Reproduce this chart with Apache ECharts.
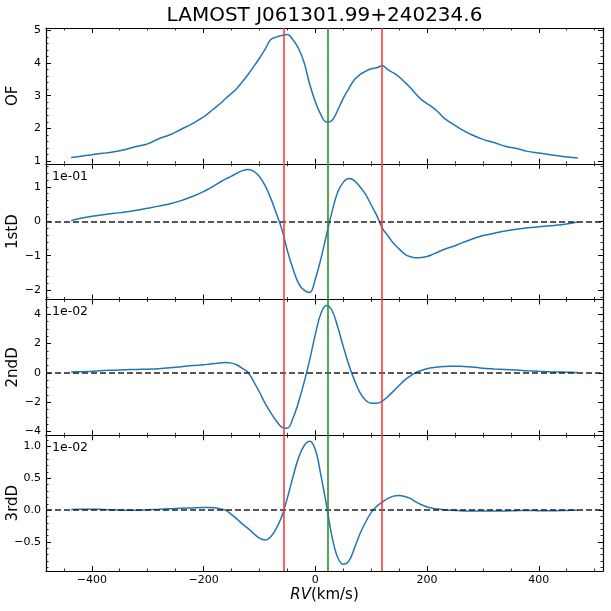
<!DOCTYPE html>
<html>
<head>
<meta charset="utf-8">
<script src="https://cdn.jsdelivr.net/npm/echarts@6/dist/echarts.min.js"></script>
<style>
  html, body { margin: 0; padding: 0; background: #fff; }
  #chart { width: 611px; height: 611px; }
</style>
</head>
<body>
<div id="chart"></div>
<script>
const starName = 'LAMOST J061301.99+240234.6';

const rv = [-437, -420, -400, -380, -360, -340, -320, -300, -280, -260, -240, -220,
  -200, -190, -180, -170, -160, -150, -140, -130, -120, -110, -100, -90, -80, -70, -60, -50,
  -40, -30, -20, -10, 0, 10, 20, 30, 40, 50, 60, 70, 80, 90, 100, 110, 120, 130, 140, 150,
  160, 170, 180, 190, 200, 210, 220, 230, 240, 250, 260, 280, 300, 320, 340, 360, 380, 400,
  420, 440, 460, 470];

const of = [1.10, 1.14, 1.19, 1.23, 1.28, 1.35, 1.44, 1.52, 1.68, 1.80, 1.97, 2.14,
  2.35, 2.48, 2.62, 2.76, 2.92, 3.07, 3.23, 3.44, 3.66, 3.90, 4.15, 4.42, 4.72, 4.80, 4.85, 4.88,
  4.72, 4.45, 4.02, 3.35, 2.82, 2.42, 2.19, 2.24, 2.55, 2.92, 3.22, 3.49, 3.65, 3.75, 3.83, 3.86,
  3.92, 3.80, 3.70, 3.58, 3.42, 3.25, 3.05, 2.88, 2.76, 2.64, 2.50, 2.32, 2.20, 2.09, 1.98, 1.80,
  1.66, 1.56, 1.45, 1.38, 1.29, 1.24, 1.19, 1.14, 1.10, 1.09];

// derivatives, in units of the offset text (1e-01, 1e-02, 1e-02)
const firstD = [0.02, 0.09, 0.145, 0.19, 0.23, 0.27, 0.32, 0.38, 0.44, 0.51, 0.60, 0.72,
  0.86, 0.95, 1.04, 1.14, 1.23, 1.31, 1.40, 1.47, 1.50, 1.45, 1.30, 1.04, 0.68, 0.24, -0.22, -0.85,
  -1.38, -1.80, -2.00, -2.07, -1.68, -1.09, -0.40, 0.28, 0.84, 1.13, 1.24, 1.18, 1.00, 0.78, 0.48, 0.17,
  -0.20, -0.42, -0.64, -0.80, -0.95, -1.03, -1.06, -1.05, -1.02, -0.96, -0.89, -0.82, -0.76, -0.71, -0.64, -0.52,
  -0.415, -0.35, -0.28, -0.23, -0.19, -0.16, -0.13, -0.10, -0.05, -0.02];

const secondD = [0.05, 0.08, 0.11, 0.15, 0.18, 0.21, 0.23, 0.25, 0.28, 0.34, 0.42, 0.49,
  0.55, 0.59, 0.63, 0.67, 0.70, 0.66, 0.53, 0.29, 0.0, -0.62, -1.31, -2.07, -2.70, -3.27, -3.70, -3.78,
  -3.10, -2.01, -0.65, 0.88, 2.60, 4.05, 4.59, 4.25, 3.15, 1.80, 0.55, -0.50, -1.35, -1.87, -2.08, -2.07,
  -1.93, -1.62, -1.25, -0.87, -0.50, -0.22, 0.02, 0.16, 0.28, 0.35, 0.40, 0.43, 0.45, 0.45, 0.44, 0.40,
  0.31, 0.26, 0.22, 0.19, 0.14, 0.10, 0.07, 0.05, 0.03, 0.02];

const thirdD = [0.01, 0.015, 0.015, 0.01, 0.005, 0.0, 0.0, 0.005, 0.012, 0.02, 0.028, 0.035,
  0.04, 0.04, 0.036, 0.02, -0.005, -0.07, -0.14, -0.22, -0.29, -0.37, -0.44, -0.47, -0.42, -0.29, -0.10, 0.19,
  0.52, 0.82, 1.01, 1.08, 0.95, 0.55, 0.08, -0.42, -0.74, -0.85, -0.80, -0.60, -0.37, -0.19, -0.04, 0.06,
  0.125, 0.185, 0.22, 0.23, 0.215, 0.185, 0.13, 0.085, 0.05, 0.03, 0.017, 0.008, 0.0, -0.005, -0.01, -0.015,
  -0.015, -0.015, -0.012, -0.008, -0.006, -0.008, -0.01, -0.006, -0.003, -0.002];

const componentRv = [-56, 119];
const centerRv = [22];

const panelNames = ['OF', '1stD', '2ndD', '3rdD'];
const offsetTexts = ['', '1e-01', '1e-02', '1e-02'];
const panelValues = [of, firstD, secondD, thirdD];

const xRange = [-482, 515];
const yRanges = [[0.91, 5.08], [-2.27, 1.67], [-4.26, 5.0], [-0.955, 1.175]];
const yMinorSplit = [5, 5, 4, 5];
const yDecimals = [0, 0, 0, 1];

const font = 'DejaVu Sans';
const gridLeft = 46, gridRight = 8, gridTop = 28, panelHeight = 135.75;

function fmt(v, digits) {
  return v.toFixed(digits).replace('-', '\u2212');
}

const chart = echarts.init(document.getElementById('chart'), null, {renderer: 'canvas'});

const grids = [], xAxes = [], yAxes = [], series = [], graphics = [];

panelNames.forEach((name, i) => {
  const top = gridTop + i * panelHeight;
  grids.push({
    left: gridLeft, right: gridRight, top: top, height: panelHeight,
    containLabel: false, outerBoundsMode: 'none'
  });

  ['bottom', 'top'].forEach(pos => {
    const labelled = i === 3 && pos === 'bottom';
    xAxes.push({
      type: 'value', gridIndex: i, position: pos,
      min: xRange[0], max: xRange[1], splitNumber: 5,
      axisLine: {onZero: false, lineStyle: {color: '#000', width: 1.2}},
      axisTick: {inside: true, length: 5, lineStyle: {color: '#000', width: 1}},
      minorTick: {show: true, splitNumber: 4, length: 2.5, lineStyle: {color: '#000', width: 0.8}},
      splitLine: {show: false},
      axisLabel: {
        show: labelled, showMinLabel: false, showMaxLabel: false, margin: 4,
        color: '#000', fontFamily: font, fontSize: 11,
        formatter: v => fmt(v, 0)
      },
      name: labelled ? '{i|RV}(km/s)' : '',
      nameLocation: 'middle', nameGap: 17,
      nameTextStyle: {
        color: '#000', fontFamily: font, fontSize: 15,
        rich: {i: {fontStyle: 'italic', fontFamily: font, fontSize: 15, color: '#000'}}
      }
    });
  });

  ['left', 'right'].forEach(pos => {
    const labelled = pos === 'left';
    yAxes.push({
      type: 'value', gridIndex: i, position: pos,
      min: yRanges[i][0], max: yRanges[i][1], splitNumber: 5,
      axisLine: {onZero: false, lineStyle: {color: '#000', width: 1.2}},
      axisTick: {inside: true, length: 5, lineStyle: {color: '#000', width: 1}},
      minorTick: {show: true, splitNumber: yMinorSplit[i], length: 2.5, lineStyle: {color: '#000', width: 0.8}},
      splitLine: {show: false},
      axisLabel: {
        show: labelled, showMinLabel: false, showMaxLabel: false, margin: 5,
        color: '#000', fontFamily: font, fontSize: 11,
        formatter: v => fmt(v, yDecimals[i])
      },
      name: labelled ? name : '',
      nameLocation: 'middle', nameGap: 25, nameMoveOverlap: false,
      nameTextStyle: {color: '#000', fontFamily: font, fontSize: 15}
    });
  });

  const marks = [];
  componentRv.forEach(v => marks.push({xAxis: v, lineStyle: {color: '#ff3a3a', width: 1.6, type: 'solid'}}));
  centerRv.forEach(v => marks.push({xAxis: v, lineStyle: {color: '#2a932a', width: 1.6, type: 'solid'}}));
  if (i > 0) {
    marks.unshift({yAxis: 0, lineStyle: {color: '#222', width: 1.6, type: [6, 3]}});
  }

  series.push({
    name: name, type: 'line',
    xAxisIndex: i * 2, yAxisIndex: i * 2,
    data: rv.map((x, k) => [x, panelValues[i][k]]),
    showSymbol: false, smooth: 0.4,
    lineStyle: {color: '#1f77b4', width: 1.5},
    markLine: {silent: true, symbol: ['none', 'none'], label: {show: false}, animation: false, data: marks}
  });

  if (offsetTexts[i]) {
    graphics.push({
      type: 'text', left: gridLeft + 6, top: top + 6,
      style: {text: offsetTexts[i], fill: '#000', font: '12.5px "' + font + '"'}
    });
  }
});

graphics.push({
  type: 'text', x: gridLeft + (611 - gridLeft - gridRight) / 2, y: 16,
  style: {text: starName, fill: '#000', font: '20px "' + font + '"', textAlign: 'center', textVerticalAlign: 'middle'}
});

chart.setOption({
  animation: false,
  backgroundColor: '#fff',
  grid: grids,
  xAxis: xAxes,
  yAxis: yAxes,
  series: series,
  graphic: graphics
});
</script>
</body>
</html>
